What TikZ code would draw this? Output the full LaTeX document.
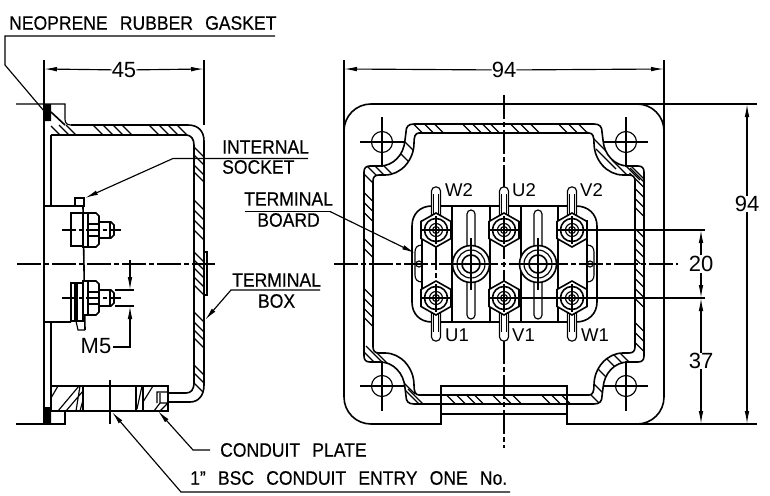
\documentclass[tikz,border=0pt]{standalone}
\usepackage{fontspec}
\setmainfont{Liberation Sans}
\newfontfamily\cadfont[FakeStretch=0.9,WordSpace=2.5,FakeBold=0.4]{Liberation Sans}
\usetikzlibrary{arrows.meta,positioning}

\tikzset{
  wallline/.style={line width=1.6pt},
  dimline/.style={line width=1.15pt},
  hatchline/.style={line width=1.15pt},
  centerline/.style={line width=1.1pt,dash pattern=on 24pt off 3pt on 5pt off 3pt},
  tiparrow/.style={dimline,-{Latex[length=13pt,width=4.6pt]}},
  lbl/.style={font=\cadfont\fontsize{19.5}{19.5}\selectfont,inner sep=0pt},
  dimtxt/.style={font=\fontsize{22}{22}\selectfont,inner sep=0pt},
  pin/.style={font=\fontsize{18.5}{18.5}\selectfont,inner sep=0pt,anchor=west},
}

\newcommand{\boxouter}{(0,-140) -- (-90,-140) .. controls (-96,-140) and (-98,-137) .. (-98,-132) -- (-99,-124) .. controls (-100,-109) and (-111,-98) .. (-124,-98) -- (-134,-98) .. controls (-138,-98) and (-140,-96) .. (-140,-92) -- (-140,0)}
\newcommand{\boxinner}{-- (-131,-83) .. controls (-131,-87) and (-129,-89) .. (-125,-89) -- (-119,-89) .. controls (-103,-89) and (-90,-104) .. (-90,-121) .. controls (-90,-127) and (-89,-131) .. (-85,-131) -- (0,-131)}

\begin{document}
\begin{tikzpicture}[x=1pt,y=-1pt]
  \useasboundingbox (0,0) rectangle (770,495);

  % side view
  \draw[wallline] (44,60) -- (44,424);
  \draw[wallline] (51,135) -- (51,206) (51,322) -- (51,411);
  \fill (44,104) rectangle (51,121) (44,407) rectangle (51,424);
  \draw[dimline] (16,104) -- (65,104) -- (65,119) .. controls (65,123) and (67,125) .. (71,125);
  \draw[dimline] (16,424) -- (65,424) -- (65,411);
  \draw[wallline] (51,112) -- (65,125);
  \draw[hatchline] (51,126) -- (60,135) (59,125) -- (69,135) (66,125) -- (76,135);

  \begin{scope}
    \clip (66,125) -- (188,125) .. controls (198,125) and (204,131) .. (204,141) -- (204,385) .. controls (204,396) and (198,402) .. (190,402) -- (168,402) -- (168,393) -- (186,393) .. controls (191,393) and (194,390) .. (194,382) -- (194,145) .. controls (194,139) and (191,135) .. (186,135) -- (66,135) -- cycle;
    \foreach \hx in {98,108,118,127,154,164,173,182}
      \draw[hatchline] (\hx-8,130-8) -- (\hx+8,130+8);
    \foreach \hy in {152,160,170,177,205,215,225,235,257,265,273,282,290,317,327,335,343,370,378,388}
      \draw[hatchline] (199-8,\hy-8) -- (199+8,\hy+8);
  \end{scope}
  \draw[wallline] (71,125) -- (188,125) .. controls (198,125) and (204,131) .. (204,141) -- (204,385) .. controls (204,396) and (198,402) .. (190,402) -- (168,402);
  \draw[wallline] (51,135) -- (186,135) .. controls (191,135) and (194,139) .. (194,145) -- (194,382) .. controls (194,390) and (191,393) .. (186,393) -- (168,393);
  \draw[dimline] (204,252) rectangle (207,295);

  \draw[wallline] (51,386) -- (168,386) -- (168,411) -- (51,411);
  \draw[wallline] (83,386) -- (83,411) (136,386) -- (136,411) (143,386) -- (143,411);
  \draw[hatchline] (51,398) -- (58,386) (58,411) -- (79,386) (66,411) -- (83,391) (76,411) -- (80,386) (80,411) -- (83,400);
  \draw[hatchline] (137,409) -- (142,386) (143,402) -- (153,386);
  \draw[dimline] (157,403) -- (157,392) -- (168,392) (160,393) -- (160,403) -- (168,403) (154,411) -- (160,403) (160,411) -- (168,403);
  \draw[dimline] (110,380) -- (110,424);

  \draw[wallline] (44,206) -- (75,206) (44,322) -- (71,322) (83,206) -- (85,330);
  \draw[dimline] (75,198) rectangle (84,206);
  \draw[wallline] (71,213) rectangle (83,246) (71,283) rectangle (83,321);
  \draw[dimline] (75,283) -- (75,321) (77,283) -- (77,321);
  \draw[dimline] (76,321) -- (78,330) -- (85,330);
  \foreach \ny in {230,298} {
    \draw[wallline,fill=white] (83,\ny-17) -- (96,\ny-17) -- (99,\ny-14) -- (99,\ny+14) -- (96,\ny+17) -- (83,\ny+17) -- cycle;
    \draw[dimline] (88,\ny-17) -- (88,\ny+17) (88,\ny-6) -- (99,\ny-6) (88,\ny+6) -- (99,\ny+6);
    \draw[wallline,fill=white] (99,\ny-8) -- (111,\ny-8) -- (114,\ny-5) -- (114,\ny+5) -- (111,\ny+8) -- (99,\ny+8) -- cycle;
    \draw[dimline] (110,\ny-8) -- (110,\ny+8);
    \draw[dimline,dash pattern=on 14pt off 3pt on 4pt off 3pt] (62,\ny) -- (121,\ny);
  }
  \draw[centerline] (17,264) -- (215,264);

  % front view
  \draw[wallline] (371,104) -- (637,104) .. controls (652,104) and (664,116) .. (664,131) -- (664,397) .. controls (664,412) and (652,424) .. (637,424) -- (567,424) -- (567,386) -- (441,386) -- (441,424) -- (371,424) .. controls (356,424) and (344,412) .. (344,397) -- (344,131) .. controls (344,116) and (356,104) .. (371,104);
  \draw[wallline] (441,414) -- (567,414);
  \draw[wallline,fill=white] (441,386) rectangle (567,404);

  \foreach \sx/\sy/\pts in {
    1/1/{418/128.5,429/128.5,439/128.5,467/128.5,477/128.5,487/128.5,495/128.5,368.5/197,368.5/207,368.5/217,368.5/243,368.5/253,410/147,405/158,388/170,379/170,371/170,367/177},
    -1/1/{515/128.5,525/128.5,535/128.5,563/128.5,573/128.5,583/128.5,639.5/183,639.5/193,639.5/203,639.5/212,639.5/233,639.5/243,639.5/253,639.5/263,597/142,606/159,622/170,630/170,637/172,640/178},
    1/-1/{451/399.5,461/399.5,471/399.5,479/399.5,497/399.5,368.5/293,368.5/303,368.5/313,368.5/322,369/357,376/356,384/360,405/384,412/397,418/399},
    -1/-1/{507/399.5,517/399.5,546/399.5,556/399.5,566/399.5,639.5/273,639.5/283,639.5/293,639.5/303,639.5/327,639.5/337,639.5/347,610/362,617/358,624/357,602/373,597/387,593/397}} {
    \begin{scope}
      \clip[shift={(504,264)},xscale=\sx,yscale=\sy] \boxouter -- (-131,0) \boxinner -- cycle;
      \foreach \hx/\hy in \pts
        \draw[hatchline] (\hx-10,\hy-10) -- (\hx+10,\hy+10);
    \end{scope}
    \begin{scope}[shift={(504,264)},xscale=\sx,yscale=\sy]
      \draw[wallline] \boxouter;
      \draw[wallline] (-131,0) \boxinner;
    \end{scope}
  }

  \foreach \hx in {382,626}
    \foreach \hy in {142,386} {
      \draw[dimline] (\hx,\hy) circle[radius=10.5];
      \draw[dimline] (\hx-22,\hy) -- (\hx+22,\hy) (\hx,\hy-25) -- (\hx,\hy+25);
    }

  \draw[wallline] (432,206) -- (576,206) .. controls (588,206) and (597,214) .. (597,226) -- (597,302) .. controls (597,314) and (588,322) .. (576,322) -- (432,322) .. controls (420,322) and (412,314) .. (412,302) -- (412,226) .. controls (412,214) and (420,206) .. (432,206);
  \draw[wallline] (422,220) -- (422,306) (587,220) -- (587,306);
  \draw[dimline] (422,245) .. controls (417,245) and (415,248) .. (415,252) -- (415,275) .. controls (415,279) and (417,282) .. (422,282);
  \draw[dimline] (587,245) .. controls (592,245) and (594,248) .. (594,252) -- (594,275) .. controls (594,279) and (592,282) .. (587,282);
  \draw[dimline] (419,264) circle[radius=3] (590,264) circle[radius=3];
  \foreach \lx in {452,490,521,558}
    \draw[dimline] (\lx,206) -- (\lx,322);

  \foreach \cx in {471,538} {
    \draw[dimline,rounded corners=4pt] (\cx-4,210) rectangle (\cx+4,250) (\cx-4,278) rectangle (\cx+4,319);
    \draw[wallline,fill=white] (\cx,264) circle[radius=18.5];
    \draw[dimline] (\cx,264) circle[radius=14];
    \draw[wallline] (\cx,264) circle[radius=9];
    \draw[dimline] (\cx-11,264) -- (\cx+11,264) (\cx,238) -- (\cx,290);
  }

  \draw[centerline] (504,95) -- (504,448);
  \draw[centerline] (334,264) -- (678,264);
  \draw[centerline] (436,246) -- (436,282);

  \foreach \nx in {436,504,572} {
    \draw[dimline,fill=white,rounded corners=4pt] (\nx-4.5,215) -- (\nx-4.5,187) -- (\nx+4.5,187) -- (\nx+4.5,215);
    \draw[dimline,fill=white,rounded corners=4pt] (\nx-4.5,313) -- (\nx-4.5,341) -- (\nx+4.5,341) -- (\nx+4.5,313);
    \draw[dimline] (\nx-2.5,194) -- (\nx-2.5,214) (\nx+2.5,194) -- (\nx+2.5,214) (\nx-2.5,314) -- (\nx-2.5,332) (\nx+2.5,314) -- (\nx+2.5,332);
    \foreach \ny in {230,298} {
      \draw[wallline,fill=white] (\nx,\ny-17) -- (\nx+15,\ny-8.5) -- (\nx+15,\ny+8.5) -- (\nx,\ny+17) -- (\nx-15,\ny+8.5) -- (\nx-15,\ny-8.5) -- cycle;
      \draw[wallline] (\nx,\ny) circle[radius=11.5];
      \draw[dimline] (\nx,\ny) circle[radius=6.5] (\nx,\ny) circle[radius=3.5];
      \draw[dimline] (\nx-15,\ny) -- (\nx+15,\ny) (\nx,\ny-14) -- (\nx,\ny+14);
    }
  }

  % labels and leaders
  \node[lbl,anchor=west] (gasket) at (9,23) {NEOPRENE RUBBER GASKET};
  \node[lbl,anchor=west] (internal) at (222,147) {INTERNAL};
  \node[lbl,below=6pt of internal.south west,anchor=north west] (socket) {SOCKET};
  \node[lbl,anchor=west] (termboard) at (244,199) {TERMINAL};
  \node[lbl,below=7pt of termboard] (board) {BOARD};
  \node[lbl,anchor=west] (termbox) at (232,280) {TERMINAL};
  \node[lbl,below=7pt of termbox] (boxtxt) {BOX};
  \node[lbl,anchor=west] (plate) at (220,450) {CONDUIT PLATE};
  \node[lbl,anchor=west] (entry) at (190,478) {1” BSC CONDUIT ENTRY ONE No.};
  \node[dimtxt] (m5) at (96,346) {M5};

  \node[pin] (w2) at (445,190) {W2};
  \node[pin] (u2) at (512,190) {U2};
  \node[pin] (v2) at (580,190) {V2};
  \node[pin] (u1) at (445,335) {U1};
  \node[pin] (v1) at (512,335) {V1};
  \node[pin] (w1) at (581,335) {W1};

  \coordinate (gasket_r) at (275,36);
  \coordinate (gasket_l) at (5,36);
  \coordinate (gasket_m) at (5,65);
  \coordinate (gasket_e) at (44,111);
  \draw[dimline] (gasket_r) -- (gasket_l) -- (gasket_m) -- (gasket_e);

  \coordinate (socket_r) at (308,158.5);
  \coordinate (socket_m) at (173,158.5);
  \coordinate (socket_t) at (85,198);
  \draw[tiparrow] (socket_r) -- (socket_m) -- (socket_t);

  \coordinate (board_r) at (330,211.5);
  \coordinate (board_l) at (245,211.5);
  \coordinate (board_t) at (415,253);
  \draw[dimline] (board_l) -- (board_r);
  \draw[tiparrow] (board_r) -- (board_t);

  \coordinate (box_r) at (320,290);
  \coordinate (box_m) at (231,290);
  \coordinate (box_t) at (205,320);
  \draw[tiparrow] (box_r) -- (box_m) -- (box_t);

  \coordinate (plate_r) at (210,450);
  \coordinate (plate_m) at (193,450);
  \coordinate (plate_t) at (158,411);
  \draw[tiparrow] (plate_r) -- (plate_m) -- (plate_t);

  \coordinate (entry_r) at (510,492);
  \coordinate (entry_m) at (181,492);
  \coordinate (entry_t) at (112,412);
  \draw[tiparrow] (entry_r) -- (entry_m) -- (entry_t);

  % dimensions
  \node[dimtxt] (d45) at (124,70) {45};
  \coordinate (d45_l) at (44,69);
  \coordinate (d45_r) at (204,69);
  \draw[tiparrow] (d45) -- (d45_l);
  \draw[tiparrow] (d45) -- (d45_r);
  \draw[dimline] (204,60) -- (204,125);

  \node[dimtxt] (d94top) at (504,70) {94};
  \coordinate (d94_l) at (344,69);
  \coordinate (d94_r) at (664,69);
  \draw[tiparrow] (d94top) -- (d94_l);
  \draw[tiparrow] (d94top) -- (d94_r);
  \draw[wallline] (344,60) -- (344,131) (664,60) -- (664,131);

  \node[dimtxt] (d94side) at (747,204) {94};
  \coordinate (d94_a) at (747,104);
  \coordinate (d94_b) at (747,424);
  \draw[tiparrow] (d94side) -- (d94_a);
  \draw[tiparrow] (d94side) -- (d94_b);
  \draw[dimline] (637,104) -- (757,104) (637,424) -- (757,424);

  \node[dimtxt,fill=white,inner sep=1pt] (d20) at (701,264) {20};
  \node[dimtxt] (d37) at (701,361) {37};
  \coordinate (d20_a) at (701,230);
  \coordinate (d20_b) at (701,298);
  \coordinate (d37_b) at (701,424);
  \draw[dimline] (572,230) -- (705,230) (504,298) -- (705,298);
  \draw[tiparrow] (d20) -- (d20_a);
  \draw[tiparrow] (d20) -- (d20_b);
  \draw[tiparrow] (d37) -- (d20_b);
  \draw[tiparrow] (d37) -- (d37_b);

  \coordinate (m5_a) at (130,290);
  \coordinate (m5_b) at (130,306);
  \coordinate (m5_c) at (130,260);
  \coordinate (m5_d) at (130,347);
  \coordinate (m5_e) at (113,347);
  \draw[dimline] (115,290) -- (134,290) (115,306) -- (134,306);
  \draw[tiparrow] (m5_c) -- (m5_a);
  \draw[tiparrow] (m5_e) -- (m5_d) -- (m5_b);
\end{tikzpicture}
\end{document}
